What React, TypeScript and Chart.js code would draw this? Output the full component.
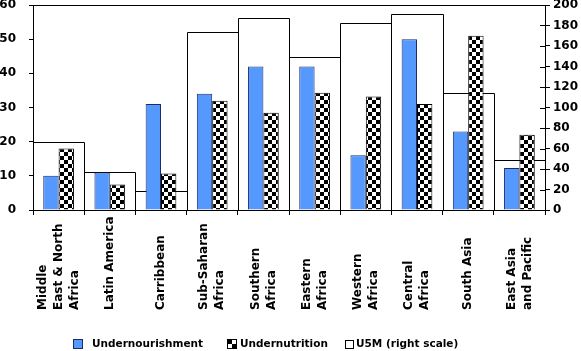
import React, { useEffect, useRef } from 'react';
import { Chart, registerables } from 'chart.js';

Chart.register(...registerables);

// ---- data ----
const categories: string[][] = [
  ['Middle', 'East & North', 'Africa'],
  ['Latin America'],
  ['Carribbean'],
  ['Sub-Saharan', 'Africa'],
  ['Southern', 'Africa'],
  ['Eastern', 'Africa'],
  ['Western', 'Africa'],
  ['Central', 'Africa'],
  ['South Asia'],
  ['East Asia', 'and Pacific'],
];
const undernourishment = [10, 11, 31, 34, 42, 42, 16, 50, 23, 12.3];
const undernutrition = [18, 7.5, 10.7, 32, 28.5, 34.3, 33.2, 31, 51, 22];
const u5m = [66, 37, 19, 174, 187, 149, 182, 191, 114, 49];
const seriesNames = ['Undernourishment', 'Undernutrition', 'U5M (right scale)'];
const leftMax = 60;
const leftStep = 10;
const rightMax = 200;
const rightStep = 20;

// ---- style ----
const FONT = '"DejaVu Sans", "Open Sans", sans-serif';
const BLUE = '#5599ff';
const BLUE_EDGE = '#1c2c66';

function makeChecker(ctx: CanvasRenderingContext2D) {
  const c = document.createElement('canvas');
  c.width = 8;
  c.height = 8;
  const g = c.getContext('2d')!;
  g.fillStyle = '#fff';
  g.fillRect(0, 0, 8, 8);
  g.fillStyle = '#000';
  g.fillRect(0, 0, 4, 4);
  g.fillRect(4, 4, 4, 4);
  return ctx.createPattern(c, 'repeat')!;
}

const decor = {
  id: 'decor',
  beforeDatasetsDraw(chart: any) {
    // outline boxes for the U5M series (drawn under the other bars)
    const { ctx } = chart;
    const meta = chart.getDatasetMeta(2);
    const base = Math.round(chart.scales.y1.getPixelForValue(0)) + 0.5;
    ctx.save();
    ctx.strokeStyle = '#000';
    ctx.lineWidth = 1;
    ctx.beginPath();
    meta.data.forEach((el: any) => {
      const { x, y, width } = el.getProps(['x', 'y', 'width'], true);
      const l = Math.round(x - width / 2) + 0.5;
      const r = Math.round(x + width / 2) + 0.5;
      const t = Math.round(y) + 0.5;
      ctx.moveTo(l, base);
      ctx.lineTo(l, t);
      ctx.lineTo(r, t);
      ctx.lineTo(r, base);
    });
    ctx.stroke();
    ctx.restore();
  },
  afterDraw(chart: any) {
    const { ctx, chartArea: ca, scales } = chart;
    ctx.save();
    ctx.strokeStyle = '#000';
    ctx.lineWidth = 1;
    // top frame line
    ctx.beginPath();
    ctx.moveTo(ca.left, Math.round(ca.top) + 0.5);
    ctx.lineTo(ca.right, Math.round(ca.top) + 0.5);
    ctx.stroke();
    // inner halves of right-axis ticks (crossing ticks)
    const y1 = scales.y1;
    y1.ticks.forEach((_t: any, i: number) => {
      const py = Math.round(y1.getPixelForTick(i)) + 0.5;
      ctx.beginPath();
      ctx.moveTo(ca.right - 5, py);
      ctx.lineTo(ca.right, py);
      ctx.stroke();
    });
    // category labels, rotated, bottom aligned
    const x = scales.x;
    ctx.font = `bold 12px ${FONT}`;
    ctx.fillStyle = '#000';
    ctx.textAlign = 'left';
    ctx.textBaseline = 'middle';
    const lineH = 16;
    const baseY = ca.bottom + 100;
    (chart.data.labels as any[]).forEach((lab, i) => {
      const lines: string[] = Array.isArray(lab) ? lab : [lab];
      const cx = x.getPixelForValue(i);
      lines.forEach((ln, j) => {
        const px = cx + (j - (lines.length - 1) / 2) * lineH;
        ctx.save();
        ctx.translate(px, baseY);
        ctx.rotate(-Math.PI / 2);
        ctx.fillText(ln, 0, 0);
        ctx.restore();
      });
    });
    // legend
    const items = [
      { bx: 73, size: 10, tx: 92 },
      { bx: 227, size: 10, tx: 240 },
      { bx: 345, size: 9, tx: 356 },
    ];
    const ly = 344;
    ctx.font = `bold 10.5px ${FONT}`;
    chart.data.datasets.forEach((ds: any, i: number) => {
      const it = items[i];
      const top = Math.round(ly - it.size / 2);
      ctx.fillStyle = ds.legendFill || ds.backgroundColor;
      ctx.fillRect(it.bx, top, it.size, it.size);
      ctx.strokeStyle = ds.legendEdge || ds.borderColor;
      ctx.strokeRect(it.bx + 0.5, top + 0.5, it.size - 1, it.size - 1);
      ctx.fillStyle = '#000';
      ctx.fillText(ds.label, it.tx, ly);
    });
    ctx.restore();
  },
};

export default function App() {
  const ref = useRef<HTMLCanvasElement>(null);
  useEffect(() => {
    document.body.style.margin = '0';
    const canvas = ref.current!;
    const ctx = canvas.getContext('2d')!;
    const checker = makeChecker(ctx);
    const tickFont = { family: FONT, size: 12, weight: 'bold' as const };
    const chart = new Chart(ctx, {
      type: 'bar',
      data: {
        labels: categories,
        datasets: [
          {
            label: seriesNames[0],
            data: undernourishment,
            backgroundColor: BLUE,
            borderColor: BLUE_EDGE,
            borderWidth: 1,
            categoryPercentage: 0.6,
            barPercentage: 1,
            yAxisID: 'y',
          },
          {
            label: seriesNames[1],
            data: undernutrition,
            backgroundColor: checker as any,
            borderColor: '#000',
            borderWidth: 1,
            categoryPercentage: 0.6,
            barPercentage: 1,
            yAxisID: 'y',
          },
          {
            label: seriesNames[2],
            data: u5m,
            backgroundColor: 'rgba(255,255,255,0)',
            borderColor: 'rgba(0,0,0,0)',
            borderWidth: 0,
            legendFill: '#fff',
            legendEdge: '#000',
            grouped: false,
            categoryPercentage: 1,
            barPercentage: 1,
            yAxisID: 'y1',
          } as any,
        ],
      },
      options: {
        animation: false,
        responsive: false,
        maintainAspectRatio: false,
        layout: { padding: { top: 5, left: 0, right: 0, bottom: 0 } },
        plugins: { legend: { display: false }, tooltip: { enabled: false } },
        scales: {
          x: {
            type: 'category',
            offset: true,
            grid: { offset: true, drawOnChartArea: false, drawTicks: true, tickLength: 5, color: '#000' },
            border: { display: true, color: '#000', width: 1 },
            ticks: { display: false },
            afterFit: (s: any) => {
              s.height = 141;
              s.paddingLeft = 0;
              s.paddingRight = 0;
            },
          },
          y: {
            position: 'left',
            min: 0,
            max: leftMax,
            ticks: { stepSize: leftStep, padding: 13, color: '#000', font: tickFont },
            grid: { drawOnChartArea: false, tickLength: 4, color: '#000' },
            border: { color: '#000', width: 1 },
            afterFit: (s: any) => {
              s.width = 33;
              s.paddingTop = 0;
              s.paddingBottom = 0;
            },
          },
          y1: {
            position: 'right',
            min: 0,
            max: rightMax,
            ticks: { stepSize: rightStep, padding: 3, color: '#000', font: tickFont },
            grid: { drawOnChartArea: false, tickLength: 5, color: '#000' },
            border: { color: '#000', width: 1 },
            afterFit: (s: any) => {
              s.width = 36;
              s.paddingTop = 0;
              s.paddingBottom = 0;
            },
          },
        },
      } as any,
      plugins: [decor],
    });
    return () => chart.destroy();
  }, []);
  return (
    <div style={{ width: 581, height: 351 }}>
      <canvas ref={ref} width={581} height={351} style={{ display: 'block', width: 581, height: 351 }} />
    </div>
  );
}
